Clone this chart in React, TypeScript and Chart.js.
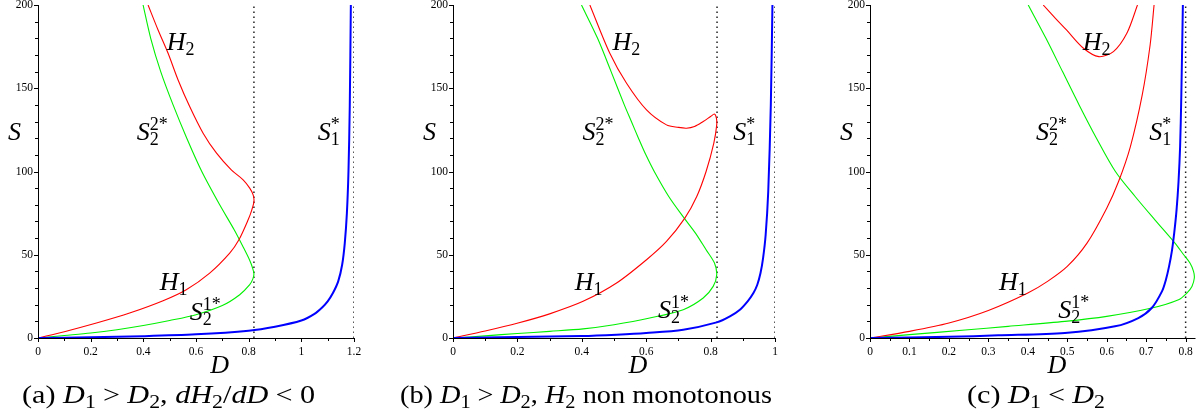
import React, { useEffect, useRef } from 'react';
import { Chart, registerables } from 'chart.js';

Chart.register(...registerables);

// ---------- Panel (a) ----------
const A_H1_D = [0, 0.1, 0.222, 0.348, 0.475, 0.563, 0.652, 0.728, 0.763, 0.798, 0.812, 0.82];
const A_H1_S = [0, 3.8, 9, 15, 22.4, 29, 39, 51, 59, 71, 77, 82];
const A_H2_D = [0.817, 0.804, 0.779, 0.734, 0.678, 0.627, 0.576, 0.532, 0.494, 0.456, 0.418];
const A_H2_S = [86, 90, 95, 101, 111, 123, 139, 155, 171, 185, 200];
const A_S21_D = [0, 0.1, 0.2, 0.3, 0.4, 0.5, 0.6, 0.7, 0.766, 0.804, 0.816];
const A_S21_S = [0, 1.5, 3, 5, 7.5, 10.5, 14, 19.5, 26, 32, 35.5];
const A_S22_D = [0.82, 0.815, 0.803, 0.778, 0.745, 0.69, 0.622, 0.565, 0.513, 0.466, 0.428, 0.399];
const A_S22_S = [38.5, 42, 47, 55, 65, 80, 100, 120, 140, 160, 180, 200];
const A_S1_D = [0, 0.2, 0.4, 0.6, 0.8, 0.9, 1.0, 1.05, 1.08, 1.1, 1.12, 1.14, 1.155, 1.165, 1.173, 1.179, 1.184, 1.188];
const A_S1_S = [0, 0.45, 1.1, 2.2, 4.4, 6.8, 10.5, 14.5, 18.5, 22, 27, 34, 44, 57, 75, 100, 140, 200];
const A_ASYMPTOTES = [0.82, 1.2];
const A_X_TICKS = [0, 0.2, 0.4, 0.6, 0.8, 1, 1.2];
const A_X_MINOR = [0, 0.1, 0.2, 0.3, 0.4, 0.5, 0.6, 0.7, 0.8, 0.9, 1, 1.1, 1.2];

// ---------- Panel (b) ----------
const B_H1_D = [0, 0.1, 0.202, 0.3, 0.404, 0.508, 0.601, 0.663, 0.72, 0.757, 0.786, 0.81, 0.819];
const B_H1_S = [0, 4.2, 9, 14.5, 22, 33, 47, 58, 72, 85, 100, 117, 128];
const B_H2_D = [0.818, 0.812, 0.8, 0.777, 0.75, 0.725, 0.7, 0.663, 0.601, 0.539, 0.487, 0.425];
const B_H2_S = [132, 134.5, 133, 130, 127, 126, 126.5, 128, 137, 153, 171, 200];
const B_S21_D = [0, 0.1, 0.2, 0.3, 0.404, 0.5, 0.611, 0.715, 0.777, 0.808, 0.819];
const B_S21_S = [0, 1.3, 2.7, 4, 5.5, 8, 12, 17, 24, 31, 38];
const B_S22_D = [0.812, 0.786, 0.753, 0.718, 0.67, 0.625, 0.599, 0.576, 0.554, 0.532, 0.491, 0.449, 0.399];
const B_S22_S = [45, 53, 63, 72, 85, 100, 110, 120, 130, 140, 160, 180, 200];
const B_S1_D = [0, 0.2, 0.4, 0.508, 0.6, 0.715, 0.819, 0.86, 0.891, 0.915, 0.933, 0.945, 0.955, 0.963, 0.971, 0.979, 0.987, 0.992];
const B_S1_S = [0, 0.6, 1.2, 2, 3, 5, 9.4, 13, 17, 22, 27, 32, 39, 48, 62, 88, 140, 200];
const B_ASYMPTOTES = [0.82, 1.0];
const B_X_TICKS = [0, 0.2, 0.4, 0.6, 0.8, 1];
const B_X_MINOR = [0, 0.1, 0.2, 0.3, 0.4, 0.5, 0.6, 0.7, 0.8, 0.9, 1];

// ---------- Panel (c) ----------
const C_H1_D = [0, 0.1, 0.2, 0.3, 0.4, 0.45, 0.5, 0.55, 0.6, 0.63, 0.66, 0.69, 0.71, 0.72];
const C_H1_S = [0, 4, 9, 16.5, 27, 34, 43, 57, 78, 94, 115, 146, 176, 200];
const C_H2_D = [0.439, 0.47, 0.498, 0.541, 0.58, 0.617, 0.651, 0.678];
const C_H2_S = [200, 192, 185, 174, 169, 172, 183, 200];
const C_S21_D = [0, 0.1, 0.241, 0.35, 0.494, 0.6, 0.714, 0.782, 0.803, 0.816];
const C_S21_S = [0, 2, 4.8, 7, 10, 13, 18, 23, 27, 31];
const C_S22_D = [0.822, 0.82, 0.811, 0.795, 0.773, 0.722, 0.672, 0.622, 0.574, 0.53, 0.488, 0.446, 0.401];
const C_S22_S = [36, 40, 45, 50, 57, 71, 85, 100, 120, 140, 160, 180, 200];
const C_S1_D = [0, 0.2, 0.325, 0.494, 0.621, 0.68, 0.714, 0.74, 0.75, 0.758, 0.765, 0.771, 0.777, 0.782, 0.786, 0.789, 0.793];
const C_S1_S = [0, 0.7, 1.6, 3, 7, 12, 18, 28, 35, 43, 52, 63, 77, 94, 115, 145, 200];
const C_ASYMPTOTES = [0.8];
const C_X_TICKS = [0, 0.1, 0.2, 0.3, 0.4, 0.5, 0.6, 0.7, 0.8];
const C_X_MINOR = [0, 0.05, 0.1, 0.15, 0.2, 0.25, 0.3, 0.35, 0.4, 0.45, 0.5, 0.55, 0.6, 0.65, 0.7, 0.75, 0.8];

// ---------- shared axis ----------
const Y_TICKS = [0, 50, 100, 150, 200];
const Y_MINOR = [0, 10, 20, 30, 40, 50, 60, 70, 80, 90, 100, 110, 120, 130, 140, 150, 160, 170, 180, 190, 200];

// curve label anchors (left, baseline) in data units: H2, S2^2*, S1*, H1, S2^1*
const A_LABEL_D = [0.489, 0.375, 1.062, 0.462, 0.576];
const A_LABEL_S = [173, 119, 119, 28.6, 11];
const B_LABEL_D = [0.495, 0.402, 0.87, 0.378, 0.637];
const B_LABEL_S = [173, 119, 119, 28.6, 12];
const C_LABEL_D = [0.539, 0.421, 0.708, 0.327, 0.477];
const C_LABEL_S = [173, 119, 119, 28.6, 12];

const SERIF = '"Liberation Serif", "Times New Roman", serif';

type Run = { t?: string; it?: boolean; sub?: string; sup?: string; gap?: number };

const CURVE_LABELS: Run[][] = [
  [{ t: 'H', it: true }, { sub: '2' }],
  [{ t: 'S', it: true }, { sub: '2', sup: '2*' }],
  [{ t: 'S', it: true }, { sub: '1', sup: '*' }],
  [{ t: 'H', it: true }, { sub: '1' }],
  [{ t: 'S', it: true }, { sub: '2', sup: '1*' }],
];

const CAPTION_A: Run[] = [
  { t: '(a) ' }, { t: 'D', it: true }, { sub: '1' }, { gap: 6 }, { t: '>' }, { gap: 6 }, { t: 'D', it: true }, { sub: '2' },
  { t: ', ' }, { t: 'dH', it: true }, { sub: '2' }, { t: '/' }, { t: 'dD', it: true }, { gap: 6 }, { t: '<' }, { gap: 6 }, { t: '0' },
];
const CAPTION_B: Run[] = [
  { t: '(b) ' }, { t: 'D', it: true }, { sub: '1' }, { gap: 6 }, { t: '>' }, { gap: 6 }, { t: 'D', it: true }, { sub: '2' },
  { t: ', ' }, { t: 'H', it: true }, { sub: '2' }, { t: ' non monotonous' },
];
const CAPTION_C: Run[] = [
  { t: '(c) ' }, { t: 'D', it: true }, { sub: '1' }, { gap: 6 }, { t: '<' }, { gap: 6 }, { t: 'D', it: true }, { sub: '2' },
];

type TextStyle = { size: number; script: number; subShift: number; supShift: number };
const LABEL_STYLE: TextStyle = { size: 26, script: 18, subShift: 5, supShift: 10 };
const CAPTION_STYLE: TextStyle = { size: 25, script: 18, subShift: 5, supShift: 9 };

function drawRuns(ctx: CanvasRenderingContext2D, x: number, y: number, runs: Run[], st: TextStyle, fitWidth?: number) {
  const widths = runs.map((r) => {
    if (r.gap !== undefined) return r.gap;
    if (r.t !== undefined) {
      ctx.font = `${r.it ? 'italic ' : ''}${st.size}px ${SERIF}`;
      return ctx.measureText(r.t).width;
    }
    ctx.font = `${st.script}px ${SERIF}`;
    return Math.max(r.sub ? ctx.measureText(r.sub).width : 0, r.sup ? ctx.measureText(r.sup).width : 0);
  });
  const total = widths.reduce((a, b) => a + b, 0);
  ctx.save();
  ctx.translate(x, y);
  if (fitWidth) ctx.scale(fitWidth / total, 1);
  ctx.textAlign = 'left';
  ctx.textBaseline = 'alphabetic';
  ctx.fillStyle = '#000';
  let cx = 0;
  runs.forEach((r, i) => {
    if (r.t !== undefined) {
      ctx.font = `${r.it ? 'italic ' : ''}${st.size}px ${SERIF}`;
      ctx.fillText(r.t, cx, 0);
    } else if (r.gap === undefined) {
      ctx.font = `${st.script}px ${SERIF}`;
      if (r.sub) ctx.fillText(r.sub, cx, st.subShift);
      if (r.sup) ctx.fillText(r.sup, cx, -st.supShift);
    }
    cx += widths[i];
  });
  ctx.restore();
}

type Panel = {
  left: number; width: number; yAxisWidth: number; padRight: number; xMax: number;
  h1D: number[]; h1S: number[]; h2D: number[]; h2S: number[]; joinH: boolean;
  s21D: number[]; s21S: number[]; s22D: number[]; s22S: number[];
  s1D: number[]; s1S: number[]; asym: number[]; xTicks: number[]; xMinor: number[];
  labD: number[]; labS: number[]; caption: Run[]; captionLeft: number; captionWidth: number;
};

const PANELS: Panel[] = [
  { left: 0, width: 398, yAxisWidth: 38, padRight: 44, xMax: 1.2,
    h1D: A_H1_D, h1S: A_H1_S, h2D: A_H2_D, h2S: A_H2_S, joinH: true,
    s21D: A_S21_D, s21S: A_S21_S, s22D: A_S22_D, s22S: A_S22_S, s1D: A_S1_D, s1S: A_S1_S,
    asym: A_ASYMPTOTES, xTicks: A_X_TICKS, xMinor: A_X_MINOR, labD: A_LABEL_D, labS: A_LABEL_S,
    caption: CAPTION_A, captionLeft: -16, captionWidth: 293 },
  { left: 398, width: 400, yAxisWidth: 55, padRight: 23, xMax: 1.0,
    h1D: B_H1_D, h1S: B_H1_S, h2D: B_H2_D, h2S: B_H2_S, joinH: true,
    s21D: B_S21_D, s21S: B_S21_S, s22D: B_S22_D, s22S: B_S22_S, s1D: B_S1_D, s1S: B_S1_S,
    asym: B_ASYMPTOTES, xTicks: B_X_TICKS, xMinor: B_X_MINOR, labD: B_LABEL_D, labS: B_LABEL_S,
    caption: CAPTION_B, captionLeft: -53, captionWidth: 372 },
  { left: 798, width: 400, yAxisWidth: 72, padRight: 2.5, xMax: 0.825,
    h1D: C_H1_D, h1S: C_H1_S, h2D: C_H2_D, h2S: C_H2_S, joinH: false,
    s21D: C_S21_D, s21S: C_S21_S, s22D: C_S22_D, s22S: C_S22_S, s1D: C_S1_D, s1S: C_S1_S,
    asym: C_ASYMPTOTES, xTicks: C_X_TICKS, xMinor: C_X_MINOR, labD: C_LABEL_D, labS: C_LABEL_S,
    caption: CAPTION_C, captionLeft: 97, captionWidth: 138 },
];

const pts = (d: number[], s: number[]) => d.map((v, i) => ({ x: v, y: s[i] }));
const fmt = (v: number) => String(Number(v.toFixed(3)));

function makeDecor(p: Panel) {
  return {
    id: 'decor',
    afterDraw(chart: any) {
      const { ctx, chartArea: ca, scales } = chart;
      const xs = scales.x;
      const ys = scales.y;
      ctx.save();
      ctx.strokeStyle = '#000';
      ctx.lineWidth = 1;
      ctx.beginPath();
      ctx.moveTo(ca.left + 0.5, ca.top);
      ctx.lineTo(ca.left + 0.5, ca.bottom + 0.5);
      ctx.lineTo(ca.right, ca.bottom + 0.5);
      ctx.stroke();
      ctx.beginPath();
      p.xMinor.forEach((v) => {
        const px = Math.round(xs.getPixelForValue(v)) + 0.5;
        const len = p.xTicks.some((t) => Math.abs(t - v) < 1e-9) ? 4 : 3;
        ctx.moveTo(px, ca.bottom);
        ctx.lineTo(px, ca.bottom + len);
      });
      Y_MINOR.forEach((v) => {
        const py = Math.round(ys.getPixelForValue(v)) + 0.5;
        const len = Y_TICKS.includes(v) ? 4 : 3;
        ctx.moveTo(ca.left, py);
        ctx.lineTo(ca.left - len, py);
      });
      ctx.stroke();
      CURVE_LABELS.forEach((runs, i) => {
        drawRuns(ctx, xs.getPixelForValue(p.labD[i]), ys.getPixelForValue(p.labS[i]), runs, LABEL_STYLE);
      });
      drawRuns(ctx, ca.left - 30, 140, [{ t: 'S', it: true }], LABEL_STYLE);
      drawRuns(ctx, ca.left + 0.545 * (ca.right - ca.left), 373, [{ t: 'D', it: true }], LABEL_STYLE);
      drawRuns(ctx, ca.left + p.captionLeft, 403, p.caption, CAPTION_STYLE, p.captionWidth);
      ctx.restore();
    },
  };
}

function PanelChart({ p }: { p: Panel }) {
  const ref = useRef<HTMLCanvasElement | null>(null);
  useEffect(() => {
    if (!ref.current) return;
    const red = p.joinH
      ? [{ data: pts(p.h1D.concat(p.h2D), p.h1S.concat(p.h2S)), borderColor: '#ff0000', borderWidth: 1.1 }]
      : [
          { data: pts(p.h1D, p.h1S), borderColor: '#ff0000', borderWidth: 1.1 },
          { data: pts(p.h2D, p.h2S), borderColor: '#ff0000', borderWidth: 1.1 },
        ];
    const datasets: any[] = [
      { data: pts(p.s1D, p.s1S), borderColor: '#0000ff', borderWidth: 2 },
      ...red,
      { data: pts(p.s21D.concat(p.s22D), p.s21S.concat(p.s22S)), borderColor: '#00f000', borderWidth: 1.1 },
      ...p.asym.map((a) => ({
        data: [{ x: a, y: 0 }, { x: a, y: 200 }], borderColor: '#222', borderWidth: 1.5,
        borderDash: [1.5, 3.5], tension: 0,
      })),
    ].map((d) => ({ showLine: true, pointRadius: 0, tension: 0.3, fill: false, ...d }));
    const chart = new Chart(ref.current, {
      type: 'scatter',
      data: { datasets },
      options: {
        animation: false,
        responsive: false,
        maintainAspectRatio: false,
        events: [],
        layout: { padding: { left: 0, right: p.padRight, top: 5, bottom: 56 } },
        plugins: { legend: { display: false }, tooltip: { enabled: false } },
        scales: {
          x: {
            type: 'linear', min: 0, max: p.xMax,
            grid: { display: false, drawTicks: false },
            border: { display: false },
            ticks: { font: { family: SERIF, size: 11.5 }, color: '#000', padding: 7, maxRotation: 0, autoSkip: false, callback: (v: any) => fmt(Number(v)) },
            afterBuildTicks: (s: any) => { s.ticks = p.xTicks.map((v) => ({ value: v })); },
            afterFit: (s: any) => { s.height = 20; s.paddingLeft = 0; s.paddingRight = 0; },
          },
          y: {
            type: 'linear', min: 0, max: 200,
            grid: { display: false, drawTicks: false },
            border: { display: false },
            ticks: { font: { family: SERIF, size: 11.5 }, color: '#000', padding: 5, autoSkip: false, callback: (v: any) => fmt(Number(v)) },
            afterBuildTicks: (s: any) => { s.ticks = Y_TICKS.map((v) => ({ value: v })); },
            afterFit: (s: any) => { s.width = p.yAxisWidth; s.paddingTop = 0; s.paddingBottom = 0; },
          },
        },
      },
      plugins: [makeDecor(p)],
    } as any);
    return () => chart.destroy();
  }, [p]);
  return (
    <canvas
      ref={ref}
      width={p.width}
      height={414}
      style={{ position: 'absolute', left: p.left, top: 0, width: p.width, height: 414, display: 'block' }}
    />
  );
}

export default function App() {
  return (
    <div style={{ position: 'absolute', left: 0, top: 0, width: 1198, height: 414, background: '#fff', overflow: 'hidden' }}>
      {PANELS.map((p, i) => (
        <PanelChart key={i} p={p} />
      ))}
    </div>
  );
}
